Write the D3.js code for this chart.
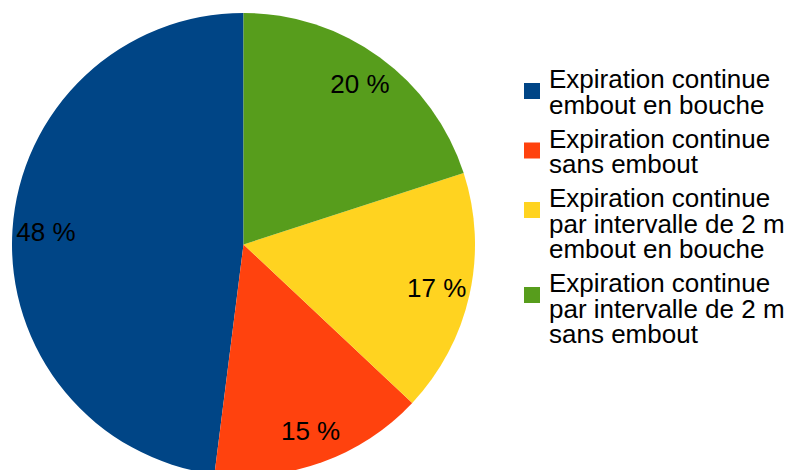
<!DOCTYPE html>
<html>
<head>
<meta charset="utf-8">
<script src="https://cdn.jsdelivr.net/npm/d3@7"></script>
<style>
  html, body { margin: 0; padding: 0; background: #fff; }
  svg { display: block; font-family: "Liberation Sans", Arial, sans-serif; }
</style>
</head>
<body>
<svg id="chart" width="789" height="470"></svg>
<script>
// données
const categories = [
    ["Expiration continue", "embout en bouche"],
    ["Expiration continue", "sans embout"],
    ["Expiration continue", "par intervalle de 2 m", "embout en bouche"],
    ["Expiration continue", "par intervalle de 2 m", "sans embout"]
];
const values = [48, 15, 17, 20];
const labels = ["48 %", "15 %", "17 %", "20 %"];
const colors = ["#004586", "#ff420e", "#ffd320", "#579d1c"];

const svg = d3.select("#chart");

const cx = 243.5, cy = 244.5, radius = 231.5;

// le camembert tourne dans le sens inverse des aiguilles, depuis midi
const pie = d3.pie()
    .sort(null)
    .value(d => d)
    .startAngle(2 * Math.PI)
    .endAngle(0);

const arcs = pie(values);

const arc = d3.arc().innerRadius(0).outerRadius(radius);
const labelArc = d3.arc().innerRadius(198).outerRadius(198);

const g = svg.append("g").attr("transform", `translate(${cx}, ${cy})`);

g.selectAll("path")
    .data(arcs)
    .enter()
    .append("path")
    .attr("d", arc)
    .style("fill", (d, i) => colors[i]);

g.selectAll("text")
    .data(arcs)
    .enter()
    .append("text")
    .attr("transform", d => `translate(${labelArc.centroid(d)})`)
    .attr("text-anchor", "middle")
    .attr("dy", "0.35em")
    .style("font-size", "26px")
    .style("fill", "#000")
    .text((d, i) => labels[i]);

// légende
const lineH = 25.5, gap = 8.5;
let y = 88;
const legend = svg.append("g");
categories.forEach((lines, i) => {
    legend.append("rect")
        .attr("x", 524)
        .attr("y", y - 5)
        .attr("width", 16)
        .attr("height", 16)
        .style("fill", colors[i]);
    const t = legend.append("text")
        .attr("x", 549)
        .attr("y", y)
        .style("font-size", "26px")
        .style("fill", "#000");
    lines.forEach((l, j) => {
        t.append("tspan")
            .attr("x", 549)
            .attr("y", y + j * lineH)
            .text(l);
    });
    y += lines.length * lineH + gap;
});
</script>
</body>
</html>
